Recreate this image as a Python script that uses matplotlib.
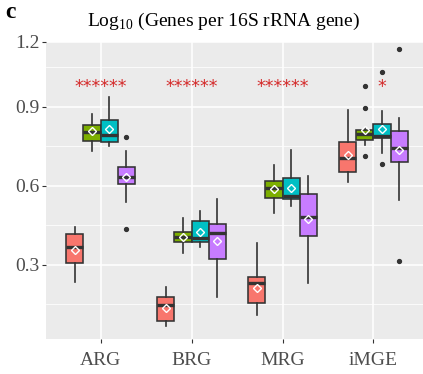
import matplotlib
matplotlib.use("Agg")
import matplotlib.pyplot as plt

plt.rcParams['font.family'] = ['Liberation Serif', 'DejaVu Serif']
plt.rcParams['mathtext.fontset'] = 'custom'
plt.rcParams['mathtext.rm'] = 'Liberation Serif'

categories = ["ARG", "BRG", "MRG", "iMGE"]
series_colors = ["#F8766D", "#7CAE00", "#00BFC4", "#C77CFF"]

# per series: [ARG, BRG, MRG, iMGE]
whislo = [
    [0.237, 0.069, 0.110, 0.614],
    [0.730, 0.347, 0.496, 0.753],
    [0.749, 0.367, 0.524, 0.724],
    [0.538, 0.180, 0.231, 0.547],
]
q1 = [
    [0.306, 0.087, 0.155, 0.654],
    [0.768, 0.386, 0.553, 0.775],
    [0.767, 0.386, 0.549, 0.781],
    [0.605, 0.322, 0.408, 0.692],
]
med = [
    [0.369, 0.148, 0.233, 0.707],
    [0.804, 0.407, 0.591, 0.796],
    [0.794, 0.401, 0.562, 0.790],
    [0.633, 0.420, 0.481, 0.745],
]
q3 = [
    [0.418, 0.178, 0.256, 0.766],
    [0.832, 0.426, 0.619, 0.813],
    [0.848, 0.467, 0.629, 0.834],
    [0.671, 0.456, 0.570, 0.809],
]
whishi = [
    [0.442, 0.217, 0.382, 0.886],
    [0.873, 0.477, 0.680, 0.818],
    [0.937, 0.506, 0.734, 0.882],
    [0.732, 0.549, 0.636, 0.857],
]
means = [
    [0.357, 0.135, 0.214, 0.718],
    [0.806, 0.405, 0.588, 0.810],
    [0.815, 0.426, 0.591, 0.815],
    [0.632, 0.392, 0.475, 0.734],
]
fliers = [
    [[], [], [], []],
    [[], [], [], [0.977, 0.895, 0.711]],
    [[], [], [], [1.030, 0.684]],
    [[0.784, 0.437], [], [], [1.120, 0.316]],
]
sig_labels = ["******", "******", "******", "*"]
sig_series = [None, None, None, 2]  # iMGE star sits over series index 2

y_ticks = [0.3, 0.6, 0.9]
y_minor = [0.15, 0.45, 0.75, 1.05]

fig = plt.figure(figsize=(4.23, 3.74), dpi=100)
ax = fig.add_axes([46/423, 1-339.3/374, 1-46/423, (339.3-42)/374])
ax.set_facecolor("#EBEBEB")

dodge = 0.75
n = len(series_colors)
bw = dodge / n
edge = "#333333"

for s in range(n):
    stats = []
    positions = []
    for g in range(len(categories)):
        stats.append(dict(med=med[s][g], q1=q1[s][g], q3=q3[s][g],
                          whislo=whislo[s][g], whishi=whishi[s][g],
                          mean=means[s][g], fliers=fliers[s][g]))
        positions.append(g + 1 - dodge/2 + bw*(s + 0.5))
    ax.bxp(stats, positions=positions, widths=bw, patch_artist=True,
           showmeans=True, showcaps=False, manage_ticks=False,
           boxprops=dict(facecolor=series_colors[s], edgecolor=edge, linewidth=1.15),
           medianprops=dict(color=edge, linewidth=2.4, solid_capstyle='butt'),
           whiskerprops=dict(color=edge, linewidth=1.2),
           meanprops=dict(marker='D', markerfacecolor='none', markeredgecolor='white',
                          markersize=4.2, markeredgewidth=1.0),
           flierprops=dict(marker='o', markerfacecolor=edge, markeredgecolor=edge,
                           markersize=2.8),
           zorder=3)

for g, lab in enumerate(sig_labels):
    if sig_series[g] is None:
        x = g + 1
    else:
        x = g + 1 - dodge/2 + bw*(sig_series[g] + 0.5)
    ax.text(x, 0.975, lab, color="#D42A2A", ha='center', va='center',
            fontsize=12.5, family='DejaVu Sans', zorder=4)

ax.set_xlim(0.401, 4.544)
ax.set_ylim(0.018, 1.145)
ax.set_xticks(range(1, len(categories) + 1))
ax.set_xticklabels(categories)
ax.set_yticks(y_ticks + [1.145])
ax.set_yticklabels(["0.3", "0.6", "0.9", "1.2"])
ax.set_yticks(y_minor, minor=True)
ax.grid(True, which='major', color='white', linewidth=1.1, zorder=0)
ax.grid(True, which='minor', axis='y', color='white', linewidth=0.55, zorder=0)
ax.set_axisbelow(True)
for sp in ax.spines.values():
    sp.set_visible(False)
ax.tick_params(axis='both', which='major', length=2.8, color='#333333',
               labelcolor='#4D4D4D', labelsize=14, pad=2)
ax.tick_params(axis='x', pad=6)
ax.tick_params(which='minor', length=0)

fig.text(223/423, 1-21/374, "Log$_{10}$ (Genes per 16S rRNA gene)",
         ha='center', va='center', fontsize=14, color='black')
fig.text(10/423, 1-12/374, "c", ha='center', va='center', fontsize=17,
         fontweight='bold', color='black')

fig.savefig("out.png", dpi=100)
